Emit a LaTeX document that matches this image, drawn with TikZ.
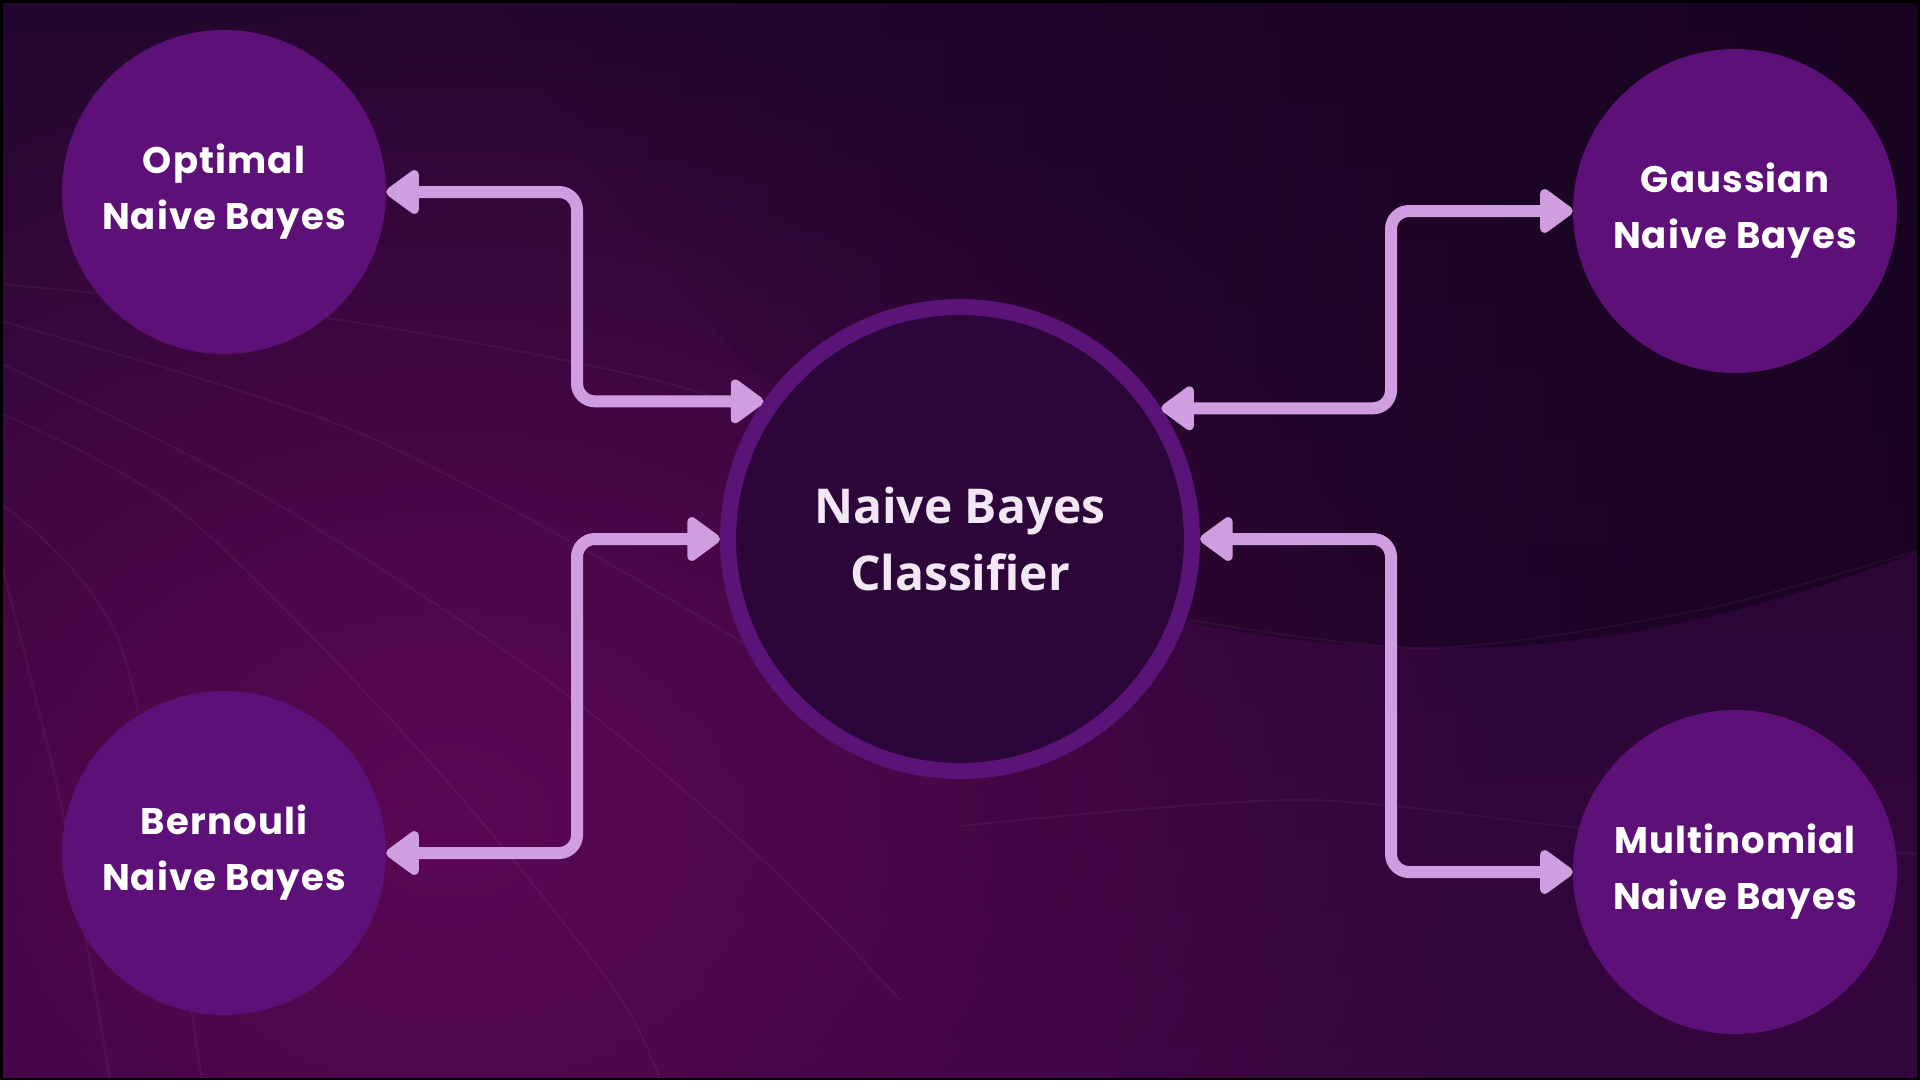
\documentclass[tikz,border=0pt]{standalone}
\usepackage{fontspec}
\usetikzlibrary{arrows.meta,fadings}
\newfontfamily\labfont{Poppins}[LetterSpace=3]
\newfontfamily\cenfont{Open Sans}
\definecolor{topc}{HTML}{24072F}
\definecolor{botc}{HTML}{34063F}
\definecolor{magc}{HTML}{5C0854}
\definecolor{darkc}{HTML}{14021C}
\definecolor{smallc}{HTML}{5E1079}
\definecolor{ringc}{HTML}{5A1478}
\definecolor{innerc}{HTML}{2C0638}
\definecolor{arrowc}{HTML}{CF9DE0}
\definecolor{ctext}{HTML}{F3E6F5}
\tikzfading[name=glowfade, inner color=transparent!0, outer color=transparent!100]
\tikzfading[name=fadeleft, left color=transparent!100, right color=transparent!0]
\tikzset{
  smallnode/.style={circle, fill=smallc, minimum size=324pt, inner sep=0pt, align=center,
    text=white, font=\labfont\bfseries\fontsize{37}{56}\selectfont},
  centernode/.style={circle, draw=ringc, line width=16pt, fill=innerc, minimum size=464pt,
    inner sep=0pt, align=center, text=ctext, font=\cenfont\bfseries\fontsize{48}{67}\selectfont},
  conn/.style={draw=arrowc, line width=12pt, rounded corners=18pt,
    arrows={Triangle[width=50pt,length=36pt,round]-Triangle[width=50pt,length=36pt,round]}},
  faint/.style={draw=white, opacity=0.045, line width=2pt}
}
\begin{document}
\begin{tikzpicture}[x=1pt,y=-1pt]
\useasboundingbox (0,0) rectangle (1920,1080);
\fill[black] (0,0) rectangle (1920,1080);
\begin{scope}
  \clip (3,3) rectangle (1917,1077);
  \shade[top color=topc, bottom color=botc] (0,0) rectangle (1920,1080);
  \fill[magc, path fading=glowfade] (450,820) ellipse (1050 and 820);
  \fill[darkc, opacity=0.75, path fading=fadeleft] (500,0) -- (1920,0) -- (1920,551)
     .. controls (1750,615) and (1600,650) .. (1430,648)
     .. controls (1250,645) and (1100,610) .. (980,560)
     .. controls (800,450) and (620,250) .. (500,0) -- cycle;
  \draw[faint] plot[smooth] coordinates {(0,284) (340,320) (674,385) (900,470)};
  \draw[faint] plot[smooth] coordinates {(0,321) (367,436) (735,638) (900,760)};
  \draw[faint] plot[smooth] coordinates {(0,363) (257,492) (551,683) (765,862) (900,1000)};
  \draw[faint] plot[smooth] coordinates {(0,413) (184,514) (429,761) (612,986) (660,1080)};
  \draw[faint] plot[smooth] coordinates {(0,503) (122,649) (202,1080)};
  \draw[faint] plot[smooth] coordinates {(0,559) (60,800) (110,1080)};
  \draw[faint] plot[smooth] coordinates {(1190,620) (1430,648) (1700,610) (1920,550)};
  \draw[faint] plot[smooth] coordinates {(960,826) (1300,800) (1600,830) (1920,854)};
\end{scope}

\node[centernode] (C) at (960,539) {Naive Bayes\\Classifier};
\node[smallnode] (O) at (224,192) {Optimal\\Naive Bayes};
\node[smallnode] (B) at (224,853) {Bernouli\\Naive Bayes};
\node[smallnode] (G) at (1735,211) {Gaussian\\Naive Bayes};
\node[smallnode] (M) at (1735,872) {Multinomial\\Naive Bayes};

\coordinate (xl) at (577,0);
\coordinate (xr) at (1391,0);

\draw[conn] (O.east) -- (O.east -| xl) |- (C.145);
\draw[conn] (B.east) -- (B.east -| xl) |- (C.west);
\draw[conn] (G.west) -- (G.west -| xr) |- (C.33);
\draw[conn] (M.west) -- (M.west -| xr) |- (C.east);
\end{tikzpicture}
\end{document}
